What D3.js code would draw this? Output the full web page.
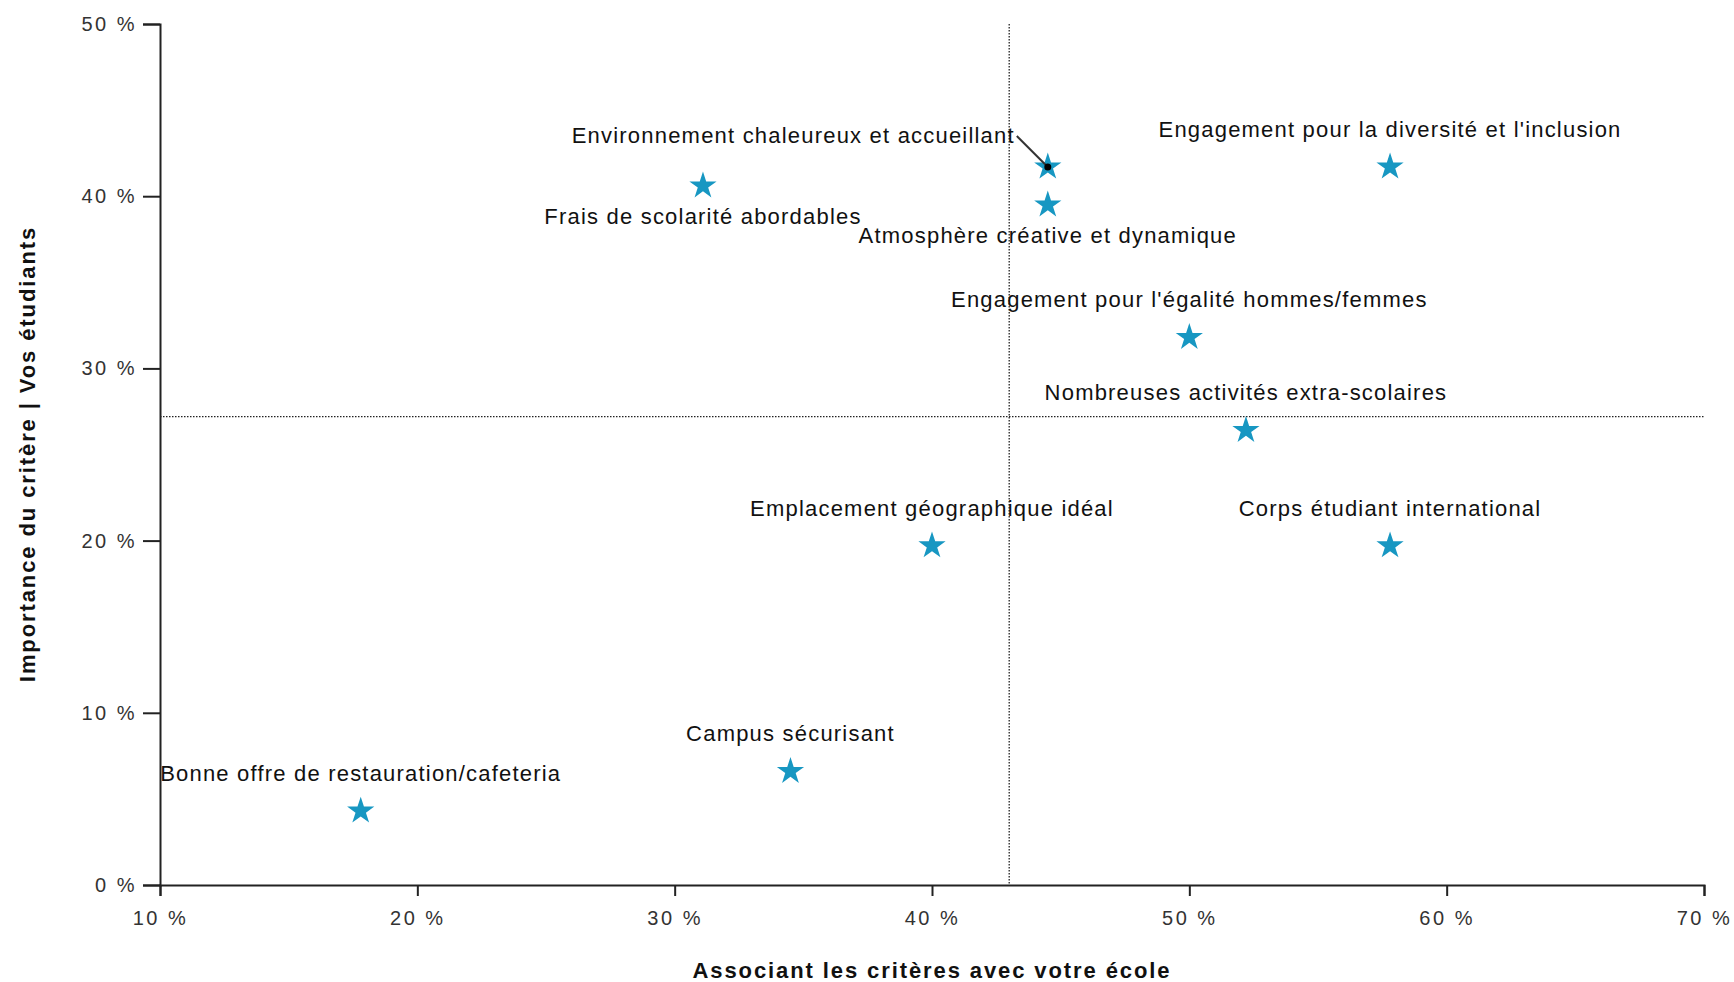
<!DOCTYPE html>
<html>
<head>
<meta charset="utf-8">
<script src="https://cdn.jsdelivr.net/npm/d3@7"></script>
<style>
  body { margin: 0; background: #fff; }
  text { font-family: "Liberation Sans", Arial, sans-serif; }
</style>
</head>
<body>
<div id="chart"></div>
<script>
// criteria and their scores (x = associating with school, y = importance)
const criteria = [
    "Environnement chaleureux et accueillant",
    "Engagement pour la diversité et l'inclusion",
    "Frais de scolarité abordables",
    "Atmosphère créative et dynamique",
    "Engagement pour l'égalité hommes/femmes",
    "Nombreuses activités extra-scolaires",
    "Emplacement géographique idéal",
    "Corps étudiant international",
    "Campus sécurisant",
    "Bonne offre de restauration/cafeteria"
];
const associationValues = [44.5, 57.8, 31.1, 44.5, 50.0, 52.2, 40.0, 57.8, 34.5, 17.8];
const importanceValues = [41.7, 41.7, 40.6, 39.5, 31.8, 26.4, 19.7, 19.7, 6.6, 4.3];
const xTicks = [10, 20, 30, 40, 50, 60, 70];
const yTicks = [0, 10, 20, 30, 40, 50];
const avgAssociation = 43.0;
const avgImportance = 27.2;

class QuadrantChart {

    constructor(parentElement) {
        this.parentElement = parentElement;
        this.data = criteria.map((c, i) => ({
            name: c,
            x: associationValues[i],
            y: importanceValues[i]
        }));
        this.initVis();
    }

    initVis() {
        let vis = this;

        vis.margin = { top: 24, right: 30, bottom: 97, left: 160 };
        vis.width = 1734 - vis.margin.left - vis.margin.right;
        vis.height = 982 - vis.margin.top - vis.margin.bottom;

        vis.svg = d3.select("#" + vis.parentElement).append("svg")
            .attr("width", 1734)
            .attr("height", 982);

        vis.g = vis.svg.append("g")
            .attr("transform", `translate(${vis.margin.left}, ${vis.margin.top})`);

        vis.x = d3.scaleLinear().domain([10, 70]).range([0, 1544]);
        vis.y = d3.scaleLinear().domain([0, 50]).range([861, 0]);

        // reference lines (averages)
        vis.g.append("line")
            .attr("x1", vis.x(avgAssociation)).attr("x2", vis.x(avgAssociation))
            .attr("y1", vis.y(50)).attr("y2", vis.y(0))
            .attr("stroke", "#222").attr("stroke-width", 1.3)
            .attr("stroke-dasharray", "1.5,1.5");
        vis.g.append("line")
            .attr("x1", vis.x(10)).attr("x2", vis.x(70))
            .attr("y1", vis.y(avgImportance)).attr("y2", vis.y(avgImportance))
            .attr("stroke", "#222").attr("stroke-width", 1.3)
            .attr("stroke-dasharray", "1.5,1.5");

        // axes
        let xAxis = d3.axisBottom(vis.x).tickValues(xTicks)
            .tickSize(11).tickPadding(15).tickFormat(d => d + " %");
        let yAxis = d3.axisLeft(vis.y).tickValues(yTicks)
            .tickSize(17).tickPadding(6).tickFormat(d => d + " %");

        vis.g.append("g")
            .attr("transform", `translate(0, ${vis.y(0)})`)
            .call(xAxis)
            .call(g => vis.styleAxis(g));
        vis.g.append("g")
            .call(yAxis)
            .call(g => vis.styleAxis(g));

        // axis titles
        vis.svg.append("text")
            .attr("x", vis.margin.left + 772)
            .attr("y", 978)
            .attr("text-anchor", "middle")
            .attr("font-size", 22).attr("font-weight", "bold")
            .attr("letter-spacing", 1.9)
            .attr("fill", "#111")
            .text("Associant les critères avec votre école");

        vis.svg.append("text")
            .attr("transform", `translate(35, ${vis.margin.top + 430}) rotate(-90)`)
            .attr("text-anchor", "middle")
            .attr("font-size", 22).attr("font-weight", "bold")
            .attr("letter-spacing", 1.9)
            .attr("fill", "#111")
            .text("Importance du critère | Vos étudiants");

        vis.updateVis();
    }

    styleAxis(g) {
        g.select(".domain").attr("stroke", "#222").attr("stroke-width", 2);
        g.selectAll(".tick line").attr("stroke", "#222").attr("stroke-width", 2);
        g.selectAll(".tick text")
            .attr("font-size", 20)
            .attr("letter-spacing", 2.5)
            .attr("fill", "#333");
    }

    updateVis() {
        let vis = this;

        // label placement for each criterion
        const placement = {
            "Environnement chaleureux et accueillant": "leader",
            "Frais de scolarité abordables": "below",
            "Atmosphère créative et dynamique": "below"
        };

        vis.g.selectAll(".star")
            .data(vis.data)
            .enter()
            .append("path")
            .attr("class", "star")
            .attr("d", d3.symbol().type(d3.symbolStar).size(230))
            .attr("transform", d => `translate(${vis.x(d.x)}, ${vis.y(d.y)})`)
            .attr("fill", "#1797c2");

        let labels = vis.g.selectAll(".label")
            .data(vis.data)
            .enter()
            .append("text")
            .attr("class", "label")
            .attr("font-size", 22)
            .attr("letter-spacing", 1.2)
            .attr("fill", "#111")
            .text(d => d.name);

        labels.each(function (d) {
            let pos = placement[d.name] || "above";
            let t = d3.select(this);
            let cx = vis.x(d.x), cy = vis.y(d.y);
            if (pos === "above") {
                t.attr("x", cx).attr("y", cy - 30).attr("text-anchor", "middle");
            } else if (pos === "below") {
                t.attr("x", cx).attr("y", cy + 38).attr("text-anchor", "middle");
            } else {
                t.attr("x", cx - 33).attr("y", cy - 24).attr("text-anchor", "end");
                vis.g.append("line")
                    .attr("x1", cx - 31).attr("y1", cy - 31)
                    .attr("x2", cx).attr("y2", cy)
                    .attr("stroke", "#333").attr("stroke-width", 2);
                vis.g.append("circle")
                    .attr("cx", cx).attr("cy", cy).attr("r", 3.5)
                    .attr("fill", "#000");
            }
        });
    }
}

new QuadrantChart("chart");
</script>
</body>
</html>
